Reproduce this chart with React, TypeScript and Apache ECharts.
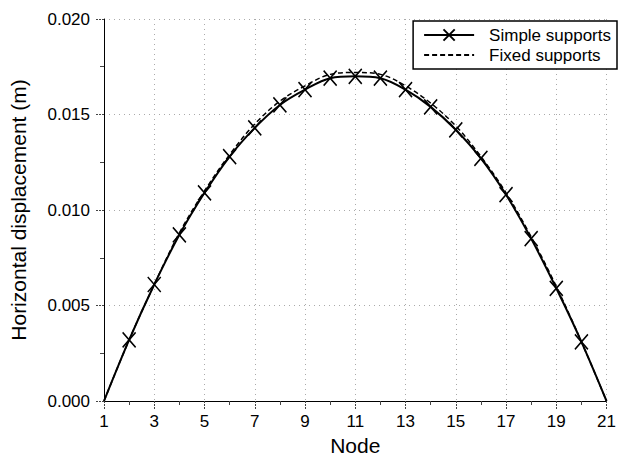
import React, { useEffect, useRef } from "react";
import * as echarts from "echarts";

const nodes = [1, 2, 3, 4, 5, 6, 7, 8, 9, 10, 11, 12, 13, 14, 15, 16, 17, 18, 19, 20, 21];
const simpleSupports = [
  0, 0.0032, 0.0061, 0.0087, 0.0109, 0.0128, 0.0143, 0.0155, 0.0163, 0.0169, 0.017,
  0.0169, 0.0163, 0.0154, 0.0142, 0.0127, 0.0108, 0.0085, 0.0059, 0.0031, 0,
];
const fixedSupports = [
  0, 0.0032, 0.0061, 0.0088, 0.011, 0.0129, 0.0145, 0.0157, 0.0165, 0.0171, 0.0172,
  0.0171, 0.0165, 0.0156, 0.0144, 0.0128, 0.0109, 0.0086, 0.006, 0.0031, 0,
];
const seriesNames = ["Simple supports", "Fixed supports"];
const xAxisTitle = "Node";
const yAxisTitle = "Horizontal displacement (m)";

const X_SYMBOL = "path://M0,0L10,12M10,0L0,12";
const FONT = "'Liberation Sans', Arial, Helvetica, sans-serif";

export default function App() {
  const ref = useRef<HTMLDivElement>(null);
  useEffect(() => {
    if (!ref.current) return;
    const chart = echarts.init(ref.current, null, { renderer: "svg" });
    const last = nodes.length - 1;
    const simpleData = nodes.map((n, i) =>
      i === 0 || i === last
        ? { value: [n, simpleSupports[i]], symbol: "none" }
        : { value: [n, simpleSupports[i]] }
    );
    const fixedData = nodes.map((n, i) => [n, fixedSupports[i]]);
    chart.setOption({
      animation: false,
      textStyle: { fontFamily: FONT },
      grid: { left: 97, right: 6, top: 19, bottom: 64 },
      legend: {
        orient: "vertical",
        right: 2,
        top: 21,
        backgroundColor: "#fff",
        borderColor: "#000",
        borderWidth: 1.5,
        borderRadius: 0,
        padding: [4, 6, 4, 10],
        itemGap: 0,
        itemWidth: 50,
        itemHeight: 14,
        textStyle: { fontSize: 17, color: "#000", fontFamily: FONT, lineHeight: 20, padding: [0, 0, 0, 10] },
        data: seriesNames,
      },
      xAxis: {
        type: "value",
        min: 1,
        max: 21,
        interval: 2,
        name: xAxisTitle,
        nameLocation: "middle",
        nameGap: 34,
        nameTextStyle: { fontSize: 21, color: "#000", fontFamily: FONT },
        axisLine: { show: true, onZero: false, lineStyle: { color: "#000", width: 1 } },
        axisTick: { show: true, inside: false, length: 8, lineStyle: { color: "#444", type: [2, 1] } },
        minorTick: { show: true, splitNumber: 2, length: 4, lineStyle: { color: "#444" } },
        axisLabel: { fontSize: 17, color: "#000", margin: 12, fontFamily: FONT },
        splitLine: { show: true, lineStyle: { color: "#aaa", type: [1, 4], width: 1 } },
      },
      yAxis: {
        type: "value",
        min: 0,
        max: 0.02,
        interval: 0.005,
        name: yAxisTitle,
        nameLocation: "middle",
        nameGap: 75,
        nameTextStyle: { fontSize: 21, color: "#000", fontFamily: FONT },
        axisLine: { show: true, lineStyle: { color: "#000", width: 1 } },
        axisTick: { show: true, inside: false, length: 8, lineStyle: { color: "#444", type: [2, 1] } },
        minorTick: { show: true, splitNumber: 2, length: 4, lineStyle: { color: "#444" } },
        axisLabel: {
          fontSize: 17,
          color: "#000",
          margin: 14,
          fontFamily: FONT,
          formatter: (v: number) => v.toFixed(3),
        },
        splitLine: { show: true, lineStyle: { color: "#aaa", type: [1, 4], width: 1 } },
      },
      series: [
        {
          name: seriesNames[0],
          type: "line",
          data: simpleData,
          smooth: 0.35,
          symbol: X_SYMBOL,
          symbolSize: [13, 15],
          showAllSymbol: true,
          lineStyle: { color: "#000", width: 2 },
          itemStyle: { color: "#000", borderColor: "#000", borderWidth: 1.6 },
          z: 3,
        },
        {
          name: seriesNames[1],
          type: "line",
          data: fixedData,
          smooth: 0.35,
          symbol: "circle",
          symbolSize: 0,
          showSymbol: false,
          lineStyle: { color: "#000", width: 1.5, type: [5, 3] },
          itemStyle: { color: "rgba(0,0,0,0)", borderWidth: 0 },
          z: 2,
        },
      ],
    });
    return () => chart.dispose();
  }, []);
  return (
    <div
      ref={ref}
      style={{ position: "absolute", left: 0, top: 0, width: 619, height: 465, background: "#fff" }}
    />
  );
}
